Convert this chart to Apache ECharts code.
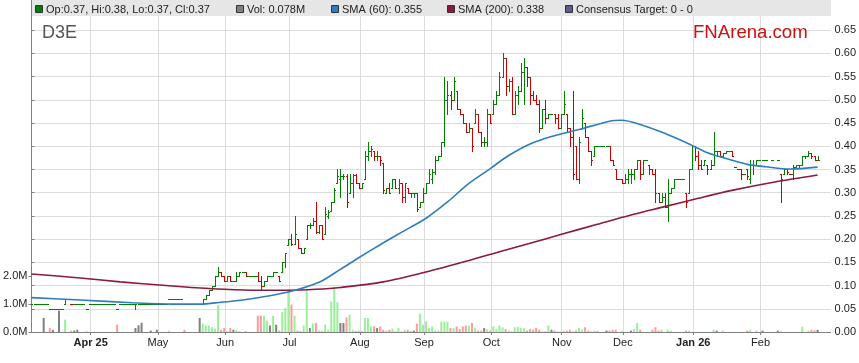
<!DOCTYPE html>
<html><head><meta charset="utf-8">
<script src="https://cdn.jsdelivr.net/npm/echarts@6/dist/echarts.min.js"></script>
<style>html,body{margin:0;padding:0;background:#fff}#c{width:859px;height:363px}</style>
</head><body><div id="c"></div>
<script>
// ---- DATA (index = weekday number, 0 = 5 Mar 2025) ----
const ticker = 'D3E';
const monthLabels = ['Apr 25','May','Jun','Jul','Aug','Sep','Oct','Nov','Dec','Jan 26','Feb'];
const monthStartIdx = [19,41,63,84,107,128,150,173,193,216,238];
const priceTicks = [0,0.05,0.10,0.15,0.20,0.25,0.30,0.35,0.40,0.45,0.50,0.55,0.60,0.65];
const volTicks = [0,1,2];

const opens = [
.06,.06,.06,.06,.06,.06,.05,.05,.05,.05,
.05,.06,.07,.06,.06,.06,.06,.06,.05,.06,
.06,.06,.06,.06,.06,.06,.06,.06,.05,.06,
.06,.06,.06,.06,.06,.06,.06,.06,.06,.06,
.06,.06,.06,.06,.06,.07,.07,.07,.07,.07,
.06,.06,.06,.06,.06,.06,.06,.07,.08,.09,
.10,.12,.13,.12,.11,.12,.11,.11,.12,.13,
.13,.12,.12,.12,.12,.11,.10,.11,.12,.12,
.13,.12,.13,.15,.187,.20,.19,.20,.18,.17,
.20,.23,.23,.24,.215,.23,.21,.25,.26,.28,
.32,.33,.335,.335,.30,.32,.339,.32,.31,.33,
.38,.39,.39,.38,.38,.365,.30,.31,.31,.33,
.31,.32,.29,.31,.30,.30,.30,.27,.28,.30,
.32,.33,.345,.37,.38,.41,.50,.51,.50,.52,
.48,.47,.45,.43,.44,.45,.47,.43,.41,.41,
.47,.47,.49,.51,.55,.59,.53,.54,.47,.51,
.52,.56,.57,.55,.51,.50,.49,.44,.48,.46,
.47,.47,.46,.44,.47,.47,.44,.42,.40,.33,
.44,.45,.42,.39,.38,.40,.40,.40,.40,.40,
.37,.35,.33,.33,.32,.33,.34,.34,.35,.37,
.34,.37,.36,.35,.34,.30,.28,.29,.27,.30,
.31,.33,.33,.33,.30,.30,.35,.40,.38,.36,
.36,.36,.35,.36,.39,.39,.38,.385,.39,.39,
.355,.35,.35,.34,.35,.33,.36,.36,.37,.37,
.37,null,.37,null,.37,.34,.34,.35,.34,.34,
.355,.36,.36,.38,.38,.385,.38,.37];
const highs = [
.06,.06,.06,.06,.06,.06,.05,.05,.05,.05,
.05,.07,.07,.06,.06,.06,.06,.06,.05,.06,
.06,.06,.06,.06,.06,.06,.06,.06,.05,.06,
.06,.06,.06,.06,.06,.06,.06,.06,.06,.06,
.06,.06,.06,.06,.06,.07,.07,.07,.07,.07,
.06,.06,.06,.06,.06,.06,.07,.08,.09,.10,
.12,.14,.13,.12,.12,.12,.11,.13,.13,.13,
.13,.12,.12,.12,.13,.12,.11,.12,.12,.13,
.13,.12,.15,.17,.20,.21,.25,.20,.18,.18,
.23,.235,.245,.28,.23,.23,.27,.262,.28,.31,
.35,.35,.34,.34,.34,.34,.34,.32,.32,.39,
.41,.40,.39,.39,.38,.365,.31,.32,.33,.33,
.33,.32,.32,.31,.30,.30,.30,.28,.31,.32,
.35,.35,.38,.38,.41,.55,.54,.52,.55,.52,
.48,.47,.45,.45,.44,.48,.47,.43,.42,.48,
.47,.50,.52,.56,.60,.59,.545,.55,.52,.53,
.58,.59,.57,.55,.52,.51,.50,.48,.50,.47,
.47,.47,.47,.47,.52,.47,.44,.52,.40,.42,
.48,.45,.42,.39,.40,.40,.40,.40,.40,.40,
.37,.35,.33,.33,.34,.35,.35,.35,.37,.37,
.37,.37,.36,.35,.35,.30,.30,.30,.33,.31,
.33,.33,.33,.33,.30,.35,.40,.40,.39,.37,
.37,.36,.37,.43,.39,.39,.385,.39,.39,.39,
.355,.35,.35,.34,.35,.37,.37,.37,.37,.37,
.37,null,.37,null,.37,.34,.35,.35,.34,.36,
.36,.36,.38,.38,.39,.385,.38,.38];
const lows = [
.06,.06,.06,.06,.06,.06,.05,.05,.05,.05,
.05,.06,.07,.06,.06,.06,.06,.06,.05,.06,
.06,.06,.06,.06,.06,.06,.06,.06,.05,.06,
.06,.06,.06,.06,.05,.06,.06,.06,.06,.06,
.06,.06,.06,.06,.06,.07,.07,.07,.07,.07,
.06,.06,.06,.06,.06,.06,.06,.07,.08,.09,
.10,.12,.12,.11,.11,.11,.11,.11,.12,.13,
.12,.12,.12,.12,.11,.09,.10,.11,.12,.12,
.13,.11,.13,.14,.187,.187,.19,.18,.17,.17,
.20,.225,.23,.213,.213,.20,.21,.245,.26,.279,
.32,.29,.33,.27,.30,.29,.32,.31,.31,.33,
.37,.38,.37,.37,.36,.30,.30,.30,.31,.31,
.30,.28,.28,.30,.29,.29,.26,.27,.28,.30,
.32,.32,.34,.37,.38,.40,.47,.48,.50,.48,
.47,.45,.43,.43,.39,.45,.43,.40,.40,.40,
.45,.47,.49,.51,.55,.51,.52,.47,.47,.49,
.52,.49,.53,.49,.50,.49,.43,.44,.45,.46,
.47,.45,.44,.44,.47,.43,.40,.33,.33,.32,
.44,.42,.39,.36,.38,.40,.40,.40,.40,.37,
.36,.33,.33,.32,.32,.32,.32,.33,.35,.33,
.34,.37,.34,.34,.28,.28,.28,.27,.24,.30,
.31,.33,.33,.33,.27,.30,.35,.37,.35,.35,
.36,.34,.35,.36,.38,.38,.38,.385,.39,.38,
.355,.35,.33,.34,.33,.32,.34,.36,.37,.37,
.37,null,.37,null,.37,.28,.34,.34,.34,.33,
.355,.355,.36,.375,.38,.375,.37,.37];
const closes = [
.06,.06,.06,.06,.06,.06,.05,.05,.05,.05,
.05,.07,.07,.06,.06,.06,.06,.06,.05,.06,
.06,.06,.06,.06,.06,.06,.06,.06,.05,.06,
.06,.06,.06,.06,.06,.06,.06,.06,.06,.06,
.06,.06,.06,.06,.06,.07,.07,.07,.07,.07,
.06,.06,.06,.06,.06,.06,.07,.08,.09,.10,
.12,.13,.12,.11,.12,.11,.11,.12,.13,.13,
.12,.12,.12,.12,.11,.10,.11,.12,.12,.13,
.13,.11,.15,.17,.20,.19,.21,.18,.17,.18,
.23,.23,.24,.215,.23,.20,.255,.258,.279,.305,
.335,.335,.335,.28,.32,.339,.32,.31,.32,.38,
.39,.395,.38,.38,.37,.305,.31,.30,.33,.31,
.32,.29,.32,.30,.30,.30,.265,.28,.30,.32,
.34,.345,.37,.38,.41,.50,.51,.50,.54,.48,
.47,.45,.43,.44,.40,.47,.43,.41,.41,.47,
.45,.49,.51,.55,.59,.53,.54,.47,.51,.52,
.56,.57,.55,.51,.50,.49,.44,.48,.46,.47,
.47,.46,.44,.47,.49,.44,.42,.34,.33,.41,
.46,.42,.39,.37,.40,.40,.40,.40,.40,.37,
.36,.33,.33,.32,.33,.34,.34,.35,.37,.34,
.37,.37,.35,.34,.30,.28,.29,.27,.30,.31,
.33,.33,.33,.33,.28,.35,.40,.38,.36,.35,
.37,.35,.36,.39,.39,.38,.385,.39,.39,.38,
.355,.35,.34,.34,.335,.36,.36,.37,.37,.37,
.37,null,.37,null,.37,.33,.35,.345,.34,.355,
.36,.36,.38,.38,.385,.38,.37,.37];
const volumes = [   // millions
0,0,0,0,.50,0,.14,.08,0,.76,
0,.44,0,.05,.05,.08,0,0,.02,0,
0,0,0,0,0,0,0,0,.26,0,
0,0,0,0,.14,.24,.33,0,0,.05,
0,.08,0,0,0,.05,0,0,0,0,
.08,0,0,0,0,.50,.30,.24,.23,.17,
.12,.95,.08,.14,.03,.14,.08,.06,.03,0,
.03,0,0,0,.58,.58,.58,.40,.23,.58,
.26,.05,.71,.86,1.52,.98,.58,.05,.03,.23,
1.46,.14,.30,.32,.05,.03,.26,.08,1.09,1.62,
1.06,.32,.32,.52,.62,.08,.04,.04,.03,.50,
.50,.20,.20,.14,.20,.08,.05,.08,.12,.02,
.14,.02,.08,.08,.02,.05,.30,.65,.26,.38,
.14,.20,.05,.05,.37,.37,.37,.14,.14,.20,
.10,.20,.23,.23,.32,.14,.05,.05,.14,.10,
.05,.20,.10,.23,.17,.10,.05,.02,.17,.18,
.14,.14,.05,.11,.08,.14,.08,.02,.02,.23,
.08,.05,.02,.02,.05,.05,.08,.02,.05,.14,
.08,.17,.05,.02,.05,.02,0,0,.05,.05,
.08,.08,0,.02,0,0,.05,.11,.32,.08,
0,0,0,.08,.17,.05,.08,0,.08,.05,
0,0,0,0,.05,.05,0,0,0,0,
0,0,0,.08,.05,0,.05,0,0,0,
0,0,0,0,.05,.08,0,.05,0,.05,
0,null,0,null,.05,.02,0,0,0,0,
0,0,.19,0,.05,.08,.06,.078];

const sma60Idx = [0,16,33,46,55,62,69,75,84,94,101,107,114,120,129,136,143,150,156,163,170,179,189,193,199,207,215,221,229,234,240,248,257];
const sma60Val = [.074,.069,.063,.060,.060,.064,.069,.075,.086,.107,.135,.160,.188,.211,.245,.280,.320,.352,.380,.405,.421,.436,.454,.456,.447,.428,.405,.386,.370,.361,.356,.351,.355];
const sma200Idx = [0,15,29,44,59,72,84,93,101,115,130,143,153,163,173,185,196,207,218,229,243,257];
const sma200Val = [.125,.117,.108,.100,.093,.090,.090,.092,.096,.108,.131,.154,.173,.191,.210,.232,.252,.270,.288,.305,.323,.338];

// ---- BUILD ----
const FONT = '"Liberation Sans", Arial, sans-serif';
const UP = '#008000', DOWN = '#cc0000';
const VUP = '#99f099', VDOWN = '#ff9a9a', VFLAT = '#808080';
const C60 = '#2f7dbf', C200 = '#8b1a3e';

const ohlcData = [], volData = [];
let prev = null, lastI = 0;
for (let i = 0; i < closes.length; i++) {
  if (closes[i] == null) continue;
  const ref = prev == null ? opens[i] : prev;
  const dir = closes[i] >= ref ? 1 : -1;
  ohlcData.push([i, opens[i], highs[i], lows[i], closes[i], dir]);
  const vc = closes[i] > ref ? VUP : (closes[i] < ref ? VDOWN : VFLAT);
  if (volumes[i] > 0) volData.push({value: [i, volumes[i]], itemStyle: {color: vc}});
  prev = closes[i]; lastI = i;
}
const sma60 = sma60Idx.map((x, k) => [x, sma60Val[k]]);
const sma200 = sma200Idx.map((x, k) => [x, sma200Val[k]]);
const monthTickVals = monthStartIdx.map(v => v + 0.35);

function renderOHLC(params, api) {
  const i = api.value(0);
  const o = api.coord([i, api.value(1)]), h = api.coord([i, api.value(2)]);
  const l = api.coord([i, api.value(3)]), c = api.coord([i, api.value(4)]);
  const col = api.value(5) > 0 ? UP : DOWN;
  const X = Math.round(o[0]);
  const r = y => Math.round(y) + 0.5;
  const st = {stroke: col, lineWidth: 1, fill: null};
  return {type: 'group', children: [
    {type: 'line', shape: {x1: X + 0.5, y1: Math.round(h[1]), x2: X + 0.5, y2: Math.round(l[1]) + 1}, style: st},
    {type: 'line', shape: {x1: X - 1, y1: r(o[1]), x2: X + 1, y2: r(o[1])}, style: st},
    {type: 'line', shape: {x1: X, y1: r(c[1]), x2: X + 2, y2: r(c[1])}, style: st}
  ]};
}

const f2 = v => v.toFixed(2);
const legendItems = [
  {x: 35, color: UP, text: 'Op:' + f2(opens[lastI]) + ', Hi:' + f2(highs[lastI]) + ', Lo:' + f2(lows[lastI]) + ', Cl:' + f2(closes[lastI])},
  {x: 236, color: '#808080', text: 'Vol: ' + volumes[lastI].toFixed(3) + 'M'},
  {x: 331, color: C60, text: 'SMA (60): ' + sma60Val[sma60Val.length - 1].toFixed(3)},
  {x: 447, color: C200, text: 'SMA (200): ' + sma200Val[sma200Val.length - 1].toFixed(3)},
  {x: 565, color: '#5c5c8e', text: 'Consensus Target: 0 - 0'}
];
const graphics = [
  {type: 'rect', z: 100, shape: {x: 32, y: 0, width: 799, height: 16}, style: {fill: '#e6e6e6'}}
];
legendItems.forEach(it => {
  graphics.push({type: 'rect', z: 101, shape: {x: it.x + 0.5, y: 5.5, width: 7, height: 7}, style: {fill: it.color, stroke: '#333', lineWidth: 1}});
  graphics.push({type: 'text', z: 101, x: it.x + 11, y: 9.5, style: {text: it.text, fill: '#222', font: '11px ' + FONT, textVerticalAlign: 'middle'}});
});
graphics.push({type: 'text', z: 101, x: 42, y: 33, style: {text: ticker, fill: '#555', font: '18px ' + FONT, textVerticalAlign: 'middle'}});
graphics.push({type: 'text', z: 101, x: 693, y: 33, style: {text: 'FNArena.com', fill: '#cc1111', font: '18.6px ' + FONT, textVerticalAlign: 'middle'}});

const chart = echarts.init(document.getElementById('c'), null, {renderer: 'canvas'});
chart.setOption({
  animation: false,
  backgroundColor: '#fff',
  grid: {left: 31, right: 27, top: 0, bottom: 31, containLabel: false},
  xAxis: {
    type: 'value', min: 0, max: 261.25,
    axisLine: {show: true, lineStyle: {color: '#808080'}},
    axisTick: {show: true, length: 3, lineStyle: {color: '#808080'}, customValues: monthTickVals},
    axisLabel: {
      customValues: monthTickVals, fontSize: 11, color: '#222', fontFamily: FONT, margin: 5,
      formatter: v => {
        const k = monthTickVals.findIndex(t => Math.abs(t - v) < 0.01);
        if (k < 0) return '';
        const s = monthLabels[k];
        return /\d/.test(s) ? '{b|' + s + '}' : s;
      },
      rich: {b: {fontWeight: 'bold', fontSize: 11, color: '#222', fontFamily: FONT}}
    },
    splitLine: {show: true, lineStyle: {color: '#dcdcdc', width: 1}}
  },
  yAxis: [
    {
      type: 'value', position: 'right', min: 0, max: 0.715,
      axisLine: {show: true, lineStyle: {color: '#808080'}},
      axisTick: {show: true, length: 3, lineStyle: {color: '#808080'}, customValues: priceTicks},
      axisLabel: {customValues: priceTicks, formatter: v => v.toFixed(2), fontSize: 11, color: '#222', fontFamily: FONT, margin: 4},
      splitLine: {show: true, lineStyle: {color: '#dcdcdc', width: 1}}
    },
    {
      type: 'value', position: 'left', min: 0, max: 11.857,
      axisLine: {show: true, lineStyle: {color: '#808080'}},
      axisTick: {show: true, length: 3, lineStyle: {color: '#808080'}, customValues: volTicks},
      axisLabel: {customValues: volTicks, formatter: v => v.toFixed(1) + 'M', fontSize: 11, color: '#222', fontFamily: FONT, margin: 4},
      splitLine: {show: false}
    }
  ],
  series: [
    {type: 'bar', xAxisIndex: 0, yAxisIndex: 1, data: volData, barWidth: 2, z: 1, silent: true},
    {type: 'custom', xAxisIndex: 0, yAxisIndex: 0, data: ohlcData, renderItem: renderOHLC, clip: true, z: 2, silent: true,
     encode: {x: 0, y: [1, 2, 3, 4]}},
    {type: 'line', yAxisIndex: 0, data: sma200, smooth: 0.3, showSymbol: false, silent: true,
     lineStyle: {color: C200, width: 1.6}, z: 3},
    {type: 'line', yAxisIndex: 0, data: sma60, smooth: 0.3, showSymbol: false, silent: true,
     lineStyle: {color: C60, width: 1.6}, z: 3}
  ],
  graphic: graphics
});
</script>
</body></html>
